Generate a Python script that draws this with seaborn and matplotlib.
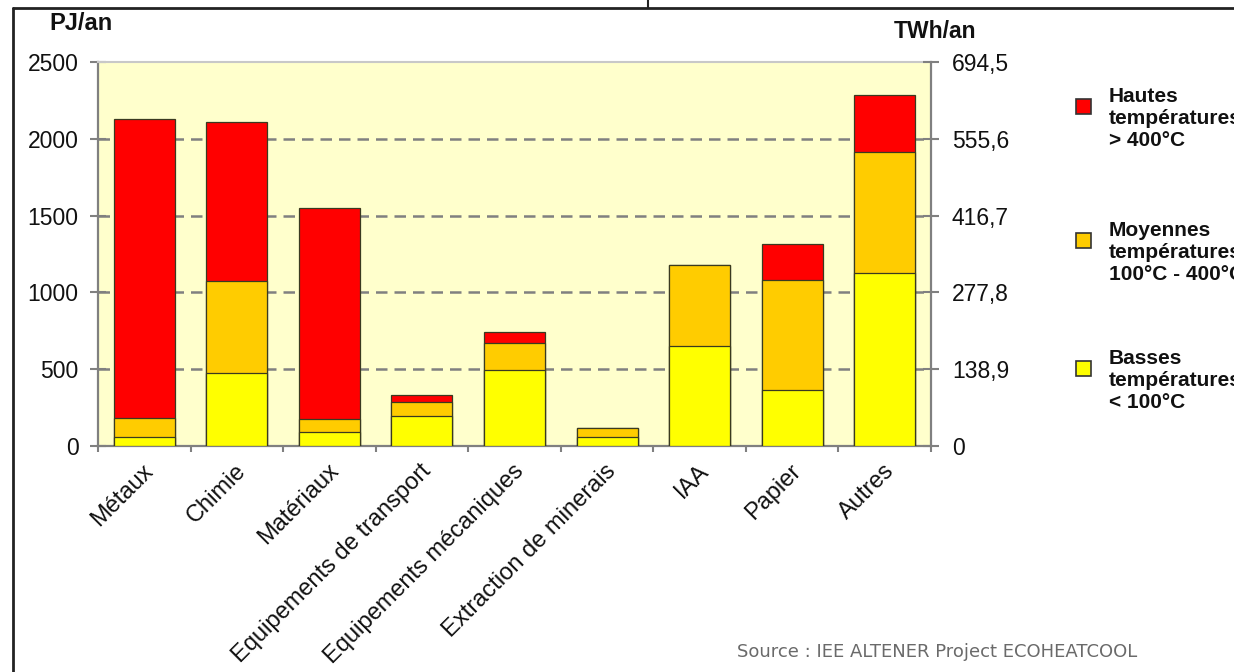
import matplotlib
matplotlib.use("Agg")
import matplotlib.pyplot as plt
from matplotlib.patches import Rectangle
from matplotlib.lines import Line2D
import matplotlib.transforms as mtransforms
import numpy as np
import pandas as pd
import seaborn as sns

# Industrial heat demand by sector and temperature level (PJ per year)
categories = ["Métaux", "Chimie", "Matériaux", "Equipements de transport",
              "Equipements mécaniques", "Extraction de minerais", "IAA",
              "Papier", "Autres"]
basses = [60, 478, 93, 193, 495, 61, 653, 365, 1127]
moyennes = [124, 599, 83, 96, 174, 55, 528, 718, 790]
hautes = [1945, 1033, 1371, 40, 72, 0, 0, 235, 368]

left_ticks = [0, 500, 1000, 1500, 2000, 2500]
right_ticks = [0, 138.9, 277.8, 416.7, 555.6, 694.5]
right_labels = ["0", "138,9", "277,8", "416,7", "555,6", "694,5"]

legend_labels = ["Hautes\ntempératures\n> 400°C",
                 "Moyennes\ntempératures\n100°C - 400°C",
                 "Basses\ntempératures\n< 100°C"]

RED, ORANGE, YELLOW = "#FF0000", "#FFCC00", "#FFFF00"
PANEL = "#FFFFCC"
GREY = "#808080"

sns.set_style("white")
plt.rcParams["font.family"] = ["Liberation Sans", "DejaVu Sans"]

W, H = 1234, 672
fig = plt.figure(figsize=(W / 100, H / 100), dpi=100)


def fx(x):
    return x / W


def fy(y):
    return 1 - y / H


ax = fig.add_axes([fx(98), fy(446), (931 - 98) / W, (446 - 62) / H])
ax.set_facecolor(PANEL)

df = pd.DataFrame({"secteur": categories,
                   "basses": basses, "moyennes": moyennes, "hautes": hautes})
df["bm"] = df["basses"] + df["moyennes"]
df["total"] = df["bm"] + df["hautes"]

# stacked look: draw cumulative heights from tallest to shortest
for col, colour in [("total", RED), ("bm", ORANGE), ("basses", YELLOW)]:
    sns.barplot(data=df, x="secteur", y=col, color=colour, saturation=1,
                width=0.66, edgecolor="#3a3a20", linewidth=0.9, ax=ax,
                zorder=3)

ax.set_xlim(-0.5, len(categories) - 0.5)
ax.set_ylim(0, 2500)
ax.set_xlabel("")
ax.set_ylabel("")

# dashed horizontal grid
for v in left_ticks[1:-1]:
    ax.axhline(v, color=GREY, lw=1.8, ls=(0, (4.6, 2.8)), zorder=1)

ax.set_yticks(left_ticks)
ax.set_yticklabels([str(v) for v in left_ticks], fontsize=16.5,
                   color="#111111")
ax.tick_params(axis="y", direction="inout", length=12, width=1.5,
               color=GREY, pad=8, left=True)

ax.set_xticks(range(len(categories)))
ax.set_xticklabels(categories, rotation=45, ha="right", va="top",
                   rotation_mode="anchor", fontsize=17, color="#111111")
ax.tick_params(axis="x", which="major", length=0, pad=10, bottom=True)
shift = mtransforms.ScaledTranslation(-2 / 100, 0, fig.dpi_scale_trans)
for lbl in ax.get_xticklabels():
    lbl.set_transform(lbl.get_transform() + shift)
ax.set_xticks(np.arange(-0.5, len(categories), 1.0), minor=True)
ax.tick_params(axis="x", which="minor", direction="out", length=4,
               width=1.5, color=GREY, bottom=True)

for side in ["left", "bottom"]:
    ax.spines[side].set_color(GREY)
    ax.spines[side].set_linewidth(1.6)
ax.spines["top"].set_color("#c8c8c8")
ax.spines["top"].set_linewidth(1.5)
ax.spines["right"].set_visible(False)

# secondary scale in TWh/an
ax2 = ax.twinx()
ax2.set_ylim(0, 694.5)
ax2.set_yticks(right_ticks)
ax2.set_yticklabels(right_labels, fontsize=16.5, color="#111111")
ax2.tick_params(axis="y", direction="inout", length=12, width=1.5,
                color=GREY, pad=9, right=True)
for side in ["left", "top", "bottom"]:
    ax2.spines[side].set_visible(False)
ax2.spines["right"].set_color(GREY)
ax2.spines["right"].set_linewidth(1.6)
ax2.grid(False)

fig.text(fx(49), fy(23), "PJ/an", fontsize=17, fontweight="bold",
         ha="left", va="center", color="#111111")
fig.text(fx(894), fy(31), "TWh/an", fontsize=16.5, fontweight="bold",
         ha="left", va="center", color="#111111")

# legend drawn by hand at the right
sq = 15
for colour, label, top in zip([RED, ORANGE, YELLOW], legend_labels,
                              [87, 221, 349]):
    fig.patches.append(Rectangle((fx(1076), fy(top + 12 + sq)), sq / W, sq / H,
                                 transform=fig.transFigure, facecolor=colour,
                                 edgecolor="#333333", lw=1.2))
    fig.text(fx(1109), fy(top), label, fontsize=15, fontweight="bold",
             ha="left", va="top", linespacing=1.2, color="#111111")

fig.text(fx(737), fy(652), "Source : IEE ALTENER Project ECOHEATCOOL",
         fontsize=13, family="DejaVu Sans", color="#6a6a6a",
         ha="left", va="center")

# page frame
fig.add_artist(Line2D([fx(13), 1], [fy(8), fy(8)], transform=fig.transFigure,
                      color="#222222", lw=2))
fig.add_artist(Line2D([fx(13), fx(13)], [fy(8), 0], transform=fig.transFigure,
                      color="#222222", lw=2))
fig.add_artist(Line2D([fx(648), fx(648)], [fy(8), 1], transform=fig.transFigure,
                      color="#222222", lw=1.5))

fig.savefig("out.png", dpi=100, facecolor="white")
